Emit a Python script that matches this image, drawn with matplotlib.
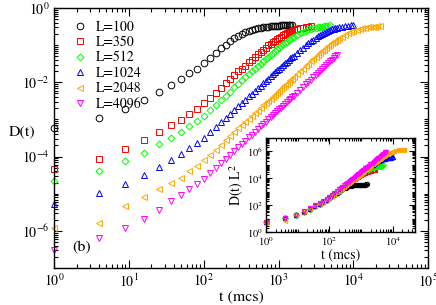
import numpy as np
import matplotlib
matplotlib.use("Agg")
import matplotlib.pyplot as plt
from matplotlib.ticker import FixedLocator, NullFormatter, LogFormatterMathtext

plt.rcParams['font.family'] = 'STIXGeneral'
plt.rcParams['mathtext.fontset'] = 'stix'

# sampling times (mcs)
t = [1, 4, 9, 16, 25, 36, 49, 64, 81, 100, 121, 144, 169, 196, 225, 256, 289, 324,
     361, 400, 441, 484, 529, 576, 625, 676, 729, 784, 841, 900, 961, 1024, 1089,
     1156, 1225, 1296, 1369, 1444, 1521, 1600,
     1764, 1936, 2116, 2304, 2500, 2704, 2916, 3136, 3364, 3600, 3844, 4096, 4356,
     4624, 4900, 5184, 5476, 5776, 6084, 6400,
     7056, 7744, 8464, 9216, 10000,
     11025, 12100, 13225, 14400, 15625, 16900, 18225, 19600, 21025, 22500]

sizes = [100, 350, 512, 1024, 2048, 4096]
labels = ['L=100', 'L=350', 'L=512', 'L=1024', 'L=2048', 'L=4096']

# log10 D(t)
logD_100 = [-3.24, -2.97, -2.71, -2.47, -2.25, -2.07, -1.92, -1.76, -1.63, -1.49,
            -1.35, -1.21, -1.09, -0.99, -0.90, -0.82, -0.75, -0.70, -0.66, -0.61,
            -0.59, -0.56, -0.54, -0.53, -0.51, -0.51, -0.50, -0.49, -0.49, -0.48,
            -0.48, -0.48, -0.47, -0.47, -0.47, -0.47, -0.47, -0.46, -0.46]
logD_350 = [-4.33, -4.06, -3.80, -3.56, -3.34, -3.16, -3.01, -2.85, -2.71, -2.57,
            -2.42, -2.28, -2.15, -2.03, -1.92, -1.81, -1.71, -1.63, -1.55, -1.46,
            -1.39, -1.32, -1.25, -1.18, -1.12, -1.07, -1.01, -0.96, -0.92, -0.88,
            -0.84, -0.80, -0.77, -0.74, -0.71, -0.68, -0.66, -0.64, -0.61, -0.60,
            -0.57, -0.54, -0.53, -0.51, -0.50, -0.49]
logD_512 = [-4.65, -4.39, -4.13, -3.89, -3.67, -3.49, -3.34, -3.18, -3.04, -2.90,
            -2.75, -2.61, -2.48, -2.36, -2.25, -2.14, -2.04, -1.95, -1.87, -1.78,
            -1.71, -1.64, -1.57, -1.50, -1.43, -1.37, -1.32, -1.26, -1.21, -1.16,
            -1.11, -1.07, -1.02, -0.98, -0.94, -0.91, -0.87, -0.84, -0.80, -0.77,
            -0.72, -0.68, -0.64, -0.61, -0.58, -0.56, -0.54, -0.53, -0.52, -0.50,
            -0.50, -0.49, -0.48, -0.48, -0.47]
logD_1024 = [-5.28, -4.99, -4.73, -4.49, -4.27, -4.09, -3.94, -3.78, -3.64, -3.50,
             -3.35, -3.21, -3.08, -2.96, -2.85, -2.74, -2.64, -2.55, -2.47, -2.38,
             -2.31, -2.23, -2.16, -2.09, -2.02, -1.96, -1.90, -1.84, -1.79, -1.73,
             -1.68, -1.64, -1.59, -1.54, -1.49, -1.45, -1.40, -1.36, -1.32, -1.28,
             -1.20, -1.13, -1.07, -1.00, -0.95, -0.90, -0.85, -0.81, -0.76, -0.73,
             -0.70, -0.67, -0.64, -0.62, -0.60, -0.58, -0.56, -0.55, -0.53, -0.52,
             -0.51, -0.49, -0.48, -0.47, -0.47]
logD_2048 = [-5.92, -5.78, -5.33, -5.09, -4.88, -4.71, -4.57, -4.38, -4.24, -4.10,
             -3.95, -3.81, -3.68, -3.56, -3.45, -3.34, -3.24, -3.15, -3.07, -2.98,
             -2.91, -2.83, -2.76, -2.69, -2.62, -2.56, -2.50, -2.44, -2.39, -2.33,
             -2.28, -2.23, -2.18, -2.13, -2.08, -2.04, -1.99, -1.95, -1.90, -1.86,
             -1.78, -1.70, -1.64, -1.57, -1.50, -1.44, -1.38, -1.33, -1.27, -1.21,
             -1.17, -1.12, -1.08, -1.03, -0.99, -0.95, -0.92, -0.88, -0.85, -0.82,
             -0.77, -0.72, -0.68, -0.65, -0.62,
             -0.59, -0.56, -0.55, -0.53, -0.52, -0.51, -0.50, -0.50, -0.49, -0.49]
logD_4096 = [-6.52, -6.20, -5.93, -5.67, -5.43, -5.19, -5.04, -4.88, -4.74, -4.60,
             -4.45, -4.31, -4.18, -4.06, -3.95, -3.84, -3.74, -3.65, -3.57, -3.48,
             -3.41, -3.33, -3.26, -3.19, -3.12, -3.06, -3.00, -2.94, -2.89, -2.83,
             -2.78, -2.73, -2.68, -2.63, -2.58, -2.54, -2.49, -2.45, -2.40, -2.36,
             -2.28, -2.20, -2.13, -2.06, -1.99, -1.93, -1.87, -1.81, -1.75, -1.69,
             -1.64, -1.59, -1.54, -1.49, -1.44, -1.39, -1.35, -1.30, -1.26]

series = [logD_100, logD_350, logD_512, logD_1024, logD_2048, logD_4096]
colors = ['black', '#ff0000', '#00ff00', '#0000ff', '#ffa500', '#ff00ff']
markers = ['o', 's', 'D', '^', '<', 'v']
msize = [4.8, 4.2, 3.5, 4.8, 4.8, 4.8]


def style_log_axis(ax, xmaj, xmin_, ymaj, ymin_, lsize):
    ax.set_xscale('log')
    ax.set_yscale('log')
    ax.xaxis.set_major_locator(FixedLocator(xmaj))
    ax.xaxis.set_minor_locator(FixedLocator(xmin_))
    ax.yaxis.set_major_locator(FixedLocator(ymaj))
    ax.yaxis.set_minor_locator(FixedLocator(ymin_))
    ax.xaxis.set_major_formatter(LogFormatterMathtext())
    ax.yaxis.set_major_formatter(LogFormatterMathtext())
    ax.xaxis.set_minor_formatter(NullFormatter())
    ax.yaxis.set_minor_formatter(NullFormatter())
    ax.tick_params(which='both', direction='in', top=True, right=True,
                   labelsize=lsize, width=0.8, pad=3)
    ax.tick_params(which='major', length=6)
    ax.tick_params(which='minor', length=3)
    for s in ax.spines.values():
        s.set_linewidth(1.0)


def minors(lo, hi, skip):
    out = []
    for e in range(lo, hi):
        for k in range(1, 10):
            v = k * 10.0 ** e
            if k == 1 and v in skip:
                continue
            out.append(v)
    return out


fig = plt.figure(figsize=(4.36, 3.05), dpi=100)
ax = fig.add_axes([0.124, 0.121, 0.858, 0.853])

for logD, c, m, ms, lab in zip(series, colors, markers, msize, labels):
    tt = t[:len(logD)]
    ax.plot(tt, 10.0 ** np.array(logD), linestyle='none', marker=m, ms=ms,
            mfc='none', mec=c, mew=0.7, label=lab, clip_on=False)

ax.set_xlim(1, 1e5)
ax.set_ylim(1e-7, 1)
xmaj = [1e0, 1e1, 1e2, 1e3, 1e4, 1e5]
ymaj = [1e-6, 1e-4, 1e-2, 1e0]
style_log_axis(ax, xmaj, minors(0, 5, xmaj), ymaj, minors(-7, 0, ymaj), 10)
ax.set_xlabel('t (mcs)', fontsize=11.5, labelpad=0)
ax.set_ylabel('D(t)', fontsize=11.5, rotation=0, labelpad=14)
ax.yaxis.set_label_coords(-0.085, 0.5)
ax.text(10 ** 0.37, 10 ** -6.46, '(b)', fontsize=11.5, ha='center', va='center')

ax.legend(loc='upper left', bbox_to_anchor=(0.025, 0.985), frameon=False,
          fontsize=10, handletextpad=0.5, labelspacing=0.15, borderaxespad=0.2,
          handlelength=1.2)

# inset: collapse D(t) L^2
ins = fig.add_axes([0.610, 0.239, 0.342, 0.309])
for logD, L, c, m in zip(series, sizes, colors, markers):
    tt = t[:len(logD)]
    ins.plot(tt, 10.0 ** np.array(logD) * L ** 2, linestyle='none', marker=m,
             ms=3.0, mfc='none', mec=c, mew=0.8, clip_on=False)
ins.set_xlim(1, 5e4)
ins.set_ylim(1, 1e7)
ixmaj = [1e0, 1e2, 1e4]
iymaj = [1e0, 1e2, 1e4, 1e6]
style_log_axis(ins, ixmaj, minors(0, 5, ixmaj), iymaj, minors(0, 7, iymaj), 7.5)
ins.tick_params(which='major', length=4, pad=2)
ins.tick_params(which='minor', length=2)
ins.set_xlabel('t (mcs)', fontsize=10, labelpad=0)
ins.set_ylabel('D(t) L$^2$', fontsize=10, labelpad=1)

fig.savefig('out.png', dpi=100)
